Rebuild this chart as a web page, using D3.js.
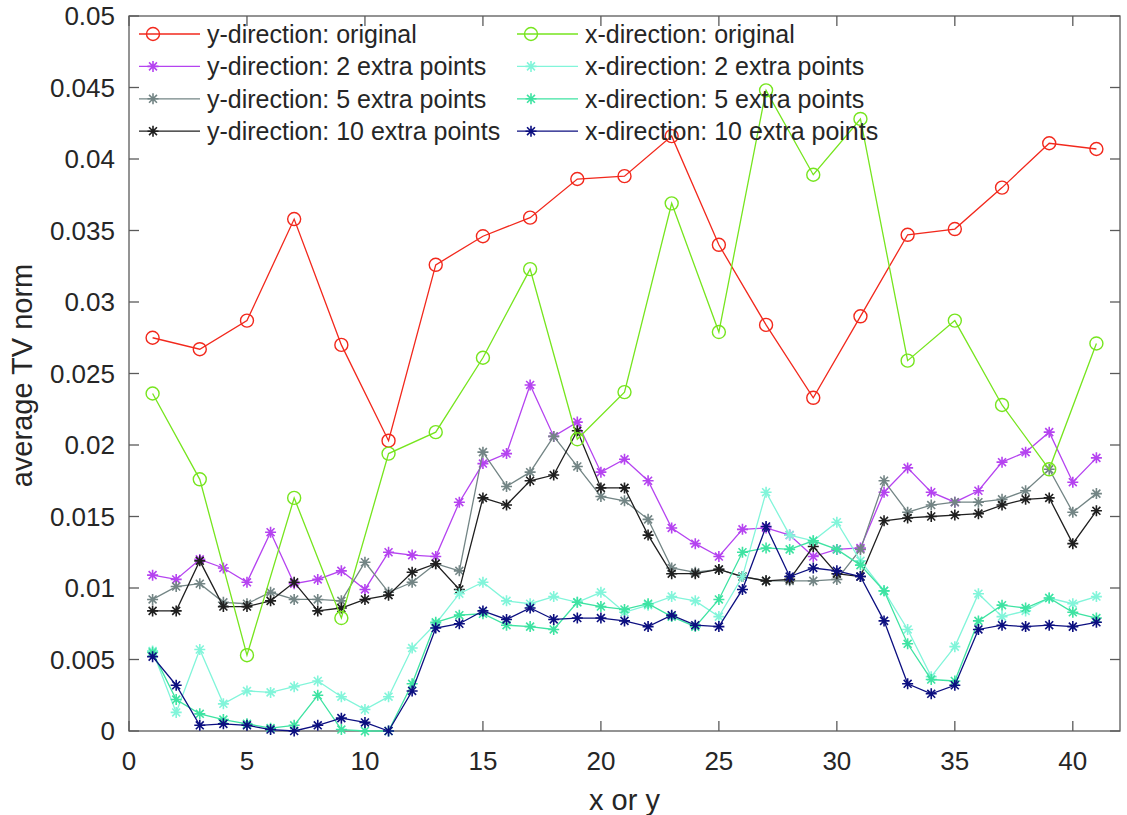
<!DOCTYPE html>
<html>
<head>
<meta charset="utf-8">
<script src="https://cdn.jsdelivr.net/npm/d3@7"></script>
<style>
  body { margin: 0; background: #fff; }
  text { font-family: "Liberation Sans", Arial, sans-serif; fill: #262626; }
</style>
</head>
<body>
<div id="chart"></div>
<script>
// x positions
var xOdd = d3.range(1, 42, 2)
var xAll = d3.range(1, 42)

// y-direction series
var yOriginal = [0.0275, 0.0267, 0.0287, 0.0358, 0.0270, 0.0203, 0.0326, 0.0346, 0.0359, 0.0386, 0.0388,
                 0.0416, 0.0340, 0.0284, 0.0233, 0.0290, 0.0347, 0.0351, 0.0380, 0.0411, 0.0407]
var yExtra2 = [0.0109, 0.0106, 0.0120, 0.0114, 0.0104, 0.0139, 0.0103, 0.0106, 0.0112, 0.0099,
               0.0125, 0.0123, 0.0122, 0.0160, 0.0187, 0.0194, 0.0242, 0.0206, 0.0216, 0.0181,
               0.0190, 0.0175, 0.0142, 0.0131, 0.0122, 0.0141, 0.0142, 0.0137, 0.0122, 0.0127,
               0.0128, 0.0167, 0.0184, 0.0167, 0.0160, 0.0168, 0.0188, 0.0195, 0.0209, 0.0174, 0.0191]
var yExtra5 = [0.0092, 0.0101, 0.0103, 0.0090, 0.0089, 0.0097, 0.0092, 0.0092, 0.0091, 0.0118,
               0.0097, 0.0104, 0.0117, 0.0112, 0.0195, 0.0171, 0.0181, 0.0206, 0.0185, 0.0164,
               0.0161, 0.0148, 0.0114, 0.0111, 0.0113, 0.0108, 0.0105, 0.0105, 0.0105, 0.0106,
               0.0127, 0.0175, 0.0153, 0.0158, 0.0160, 0.0160, 0.0162, 0.0168, 0.0183, 0.0153, 0.0166]
var yExtra10 = [0.0084, 0.0084, 0.0119, 0.0087, 0.0087, 0.0091, 0.0104, 0.0084, 0.0086, 0.0092,
                0.0095, 0.0111, 0.0117, 0.0099, 0.0163, 0.0158, 0.0175, 0.0179, 0.0210, 0.0170,
                0.0170, 0.0137, 0.0110, 0.0110, 0.0113, 0.0108, 0.0105, 0.0106, 0.0129, 0.0110,
                0.0108, 0.0147, 0.0149, 0.0150, 0.0151, 0.0152, 0.0158, 0.0162, 0.0163, 0.0131, 0.0154]

// x-direction series
var xOriginal = [0.0236, 0.0176, 0.0053, 0.0163, 0.0079, 0.0194, 0.0209, 0.0261, 0.0323, 0.0204, 0.0237,
                 0.0369, 0.0279, 0.0448, 0.0389, 0.0428, 0.0259, 0.0287, 0.0228, 0.0183, 0.0271]
var xExtra2 = [0.0056, 0.0013, 0.0057, 0.0019, 0.0028, 0.0027, 0.0031, 0.0035, 0.0024, 0.0015,
               0.0024, 0.0058, 0.0075, 0.0096, 0.0104, 0.0091, 0.0089, 0.0094, 0.0090, 0.0097,
               0.0083, 0.0088, 0.0094, 0.0091, 0.0080, 0.0108, 0.0167, 0.0137, 0.0133, 0.0146,
               0.0119, 0.0098, 0.0071, 0.0038, 0.0059, 0.0096, 0.0080, 0.0084, 0.0093, 0.0089, 0.0094]
var xExtra5 = [0.0055, 0.0022, 0.0012, 0.0008, 0.0005, 0.0002, 0.0004, 0.0025, 0.0001, 0.0000,
               0.0000, 0.0033, 0.0076, 0.0081, 0.0082, 0.0074, 0.0073, 0.0071, 0.0090, 0.0087,
               0.0085, 0.0089, 0.0080, 0.0073, 0.0092, 0.0125, 0.0128, 0.0127, 0.0133, 0.0127,
               0.0116, 0.0098, 0.0061, 0.0036, 0.0035, 0.0077, 0.0088, 0.0086, 0.0093, 0.0083, 0.0079]
var xExtra10 = [0.0052, 0.0032, 0.0004, 0.0005, 0.0004, 0.0001, 0.0000, 0.0004, 0.0009, 0.0006,
                0.0000, 0.0028, 0.0072, 0.0075, 0.0084, 0.0078, 0.0086, 0.0078, 0.0079, 0.0079,
                0.0077, 0.0073, 0.0081, 0.0074, 0.0073, 0.0099, 0.0143, 0.0108, 0.0114, 0.0112,
                0.0108, 0.0077, 0.0033, 0.0026, 0.0032, 0.0071, 0.0074, 0.0073, 0.0074, 0.0073, 0.0076]

var xTicks = [0, 5, 10, 15, 20, 25, 30, 35, 40]
var yTicks = [0, 0.005, 0.01, 0.015, 0.02, 0.025, 0.03, 0.035, 0.04, 0.045, 0.05]

var series = [
  {name: "y-direction: original", xs: xOdd, ys: yOriginal, color: "#f2281c", marker: "o"},
  {name: "y-direction: 2 extra points", xs: xAll, ys: yExtra2, color: "#b543f0", marker: "*"},
  {name: "y-direction: 5 extra points", xs: xAll, ys: yExtra5, color: "#738585", marker: "*"},
  {name: "y-direction: 10 extra points", xs: xAll, ys: yExtra10, color: "#1f1f1f", marker: "*"},
  {name: "x-direction: original", xs: xOdd, ys: xOriginal, color: "#76e51e", marker: "o"},
  {name: "x-direction: 2 extra points", xs: xAll, ys: xExtra2, color: "#82f5da", marker: "*"},
  {name: "x-direction: 5 extra points", xs: xAll, ys: xExtra5, color: "#3ee3a2", marker: "*"},
  {name: "x-direction: 10 extra points", xs: xAll, ys: xExtra10, color: "#0c0f80", marker: "*"}
]

var width = 1127, height = 815
var margin = {top: 16, right: 7, bottom: 84, left: 129}
var innerW = width - margin.left - margin.right,
    innerH = height - margin.top - margin.bottom

var svg = d3.select("#chart")
  .append("svg")
    .attr("width", width)
    .attr("height", height)

var g = svg.append("g")
    .attr("transform", "translate(" + margin.left + "," + margin.top + ")")

var x = d3.scaleLinear().domain([0, 42]).range([0, innerW])
var y = d3.scaleLinear().domain([0, 0.05]).range([innerH, 0])

var axisColor = "#5a5a5a"
var tickLen = 10

// bottom / top ticks
xTicks.forEach(function(t) {
  g.append("line").attr("x1", x(t)).attr("x2", x(t)).attr("y1", innerH).attr("y2", innerH - tickLen)
    .attr("stroke", axisColor).attr("stroke-width", 1.3)
  g.append("line").attr("x1", x(t)).attr("x2", x(t)).attr("y1", 0).attr("y2", tickLen)
    .attr("stroke", axisColor).attr("stroke-width", 1.3)
  g.append("text").attr("x", x(t)).attr("y", innerH + 39)
    .attr("text-anchor", "middle").style("font-size", "26px").text(t)
})

yTicks.forEach(function(t) {
  g.append("line").attr("x1", 0).attr("x2", tickLen).attr("y1", y(t)).attr("y2", y(t))
    .attr("stroke", axisColor).attr("stroke-width", 1.3)
  g.append("line").attr("x1", innerW).attr("x2", innerW - tickLen).attr("y1", y(t)).attr("y2", y(t))
    .attr("stroke", axisColor).attr("stroke-width", 1.3)
  g.append("text").attr("x", -14).attr("y", y(t)).attr("dy", "0.36em")
    .attr("text-anchor", "end").style("font-size", "26px").text(d3.format("")(+t.toFixed(3)))
})

// frame
g.append("rect").attr("x", 0).attr("y", 0).attr("width", innerW).attr("height", innerH)
  .attr("fill", "none").attr("stroke", axisColor).attr("stroke-width", 1.3)

// axis labels
svg.append("text")
  .attr("x", margin.left + x(21)).attr("y", 810)
  .attr("text-anchor", "middle").style("font-size", "29px").text("x or y")

svg.append("text")
  .attr("transform", "translate(32," + (margin.top + innerH / 2 + 2) + ") rotate(-90)")
  .attr("text-anchor", "middle").style("font-size", "29px").text("average TV norm")

function drawMarker(sel, type, color) {
  if (type == "o") {
    sel.append("circle").attr("r", 6.5).attr("fill", "none")
      .attr("stroke", color).attr("stroke-width", 1.4)
  } else {
    var r = 5.5, d = r * 0.72
    var path = "M" + (-r) + ",0L" + r + ",0M0," + (-r) + "L0," + r +
               "M" + (-d) + "," + (-d) + "L" + d + "," + d + "M" + (-d) + "," + d + "L" + d + "," + (-d)
    sel.append("path").attr("d", path).attr("stroke", color).attr("stroke-width", 1.6).attr("fill", "none")
  }
}

var line = d3.line()
  .x(function(d) { return x(d[0]) })
  .y(function(d) { return y(d[1]) })

series.forEach(function(s) {
  var pts = s.xs.map(function(v, i) { return [v, s.ys[i]] })
  var sg = g.append("g")
  sg.append("path").datum(pts)
    .attr("d", line).attr("fill", "none")
    .attr("stroke", s.color).attr("stroke-width", 1.3)
  pts.forEach(function(p) {
    var m = sg.append("g").attr("transform", "translate(" + x(p[0]) + "," + y(p[1]) + ")")
    drawMarker(m, s.marker, s.color)
  })
})

// legend, two columns, no box
var legX = [10, 388], legY = 18, rowH = 32.4
series.forEach(function(s, i) {
  var col = Math.floor(i / 4), row = i % 4
  var lg = g.append("g").attr("transform", "translate(" + legX[col] + "," + (legY + row * rowH) + ")")
  lg.append("line").attr("x1", 0).attr("x2", 61).attr("y1", 0).attr("y2", 0)
    .attr("stroke", s.color).attr("stroke-width", 1.3)
  var m = lg.append("g").attr("transform", "translate(14,0)")
  drawMarker(m, s.marker, s.color)
  lg.append("text").attr("x", 68).attr("y", 0).attr("dy", "0.36em")
    .style("font-size", "25px").text(s.name)
})
</script>
</body>
</html>
